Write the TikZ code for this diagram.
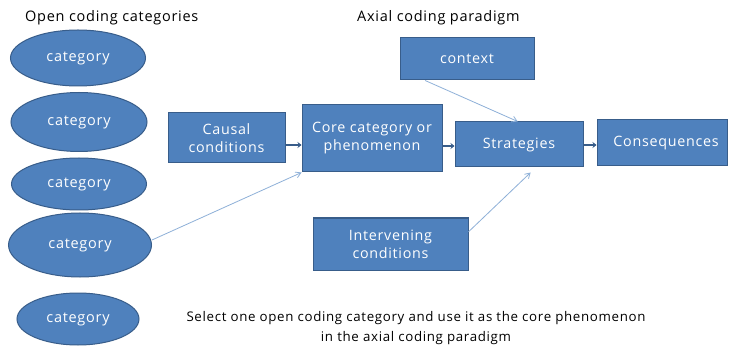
\documentclass[tikz,border=0pt]{standalone}
\usepackage{fontspec}
\setmainfont{Open Sans}[LetterSpace=5]
\usetikzlibrary{arrows.meta,calc,shapes.geometric}
\definecolor{boxfill}{HTML}{4F81BD}
\definecolor{boxline}{HTML}{385D8A}
\definecolor{thinarrow}{HTML}{8EB0D8}
\tikzset{
  cat/.style={ellipse,draw=boxline,fill=boxfill,line width=1pt,text=white,font=\fontsize{14.5}{16}\selectfont,inner sep=0pt},
  bx/.style={rectangle,draw=boxline,fill=boxfill,line width=1pt,text=white,font=\fontsize{14.3}{18}\selectfont,align=center,inner sep=0pt},
  thick link/.style={draw=boxline,line width=2.6pt,-{Stealth[length=4pt,width=6pt]}},
  thin link/.style={draw=thinarrow,line width=0.8pt,-{Straight Barb[length=5pt,width=6pt]}},
  lbl/.style={font=\fontsize{14.5}{20}\selectfont,text=black,inner sep=0pt},
  note/.style={font=\fontsize{13.3}{20}\selectfont,text=black,inner sep=0pt}
}
\begin{document}
\begin{tikzpicture}[x=1pt,y=-1pt]
\useasboundingbox (0,0) rectangle (735,347);
\fill[white] (0,0) rectangle (735,347);
% titles
\node[lbl,anchor=west] (t1) at (25,18) {Open coding categories};
\node[lbl,anchor=west] (t2) at (357,18) {Axial coding paradigm};
% ellipses
\node[cat,minimum width=135pt,minimum height=56pt] (c1) at (78,58) {category};
\node[cat,minimum width=136pt,minimum height=59pt] (c2) at (79,122) {category};
\node[cat,minimum width=135pt,minimum height=52pt] (c3) at (79,184) {category};
\node[cat,minimum width=143pt,minimum height=64pt] (c4) at (80,245) {category};
\node[cat,minimum width=122pt,minimum height=52pt] (c5) at (78,319) {category};
% boxes
\node[bx,minimum width=117pt,minimum height=50pt] (causal) at (226.5,138) {Causal\\conditions};
\node[bx,minimum width=140pt,minimum height=67pt] (core) at (372,138.5) {Core category or\\phenomenon};
\node[bx,minimum width=128pt,minimum height=45pt] (strat) at (519,144.5) {Strategies};
\node[bx,minimum width=130pt,minimum height=46pt] (cons) at (662,143) {\hspace*{8pt}Consequences};
\node[bx,minimum width=134pt,minimum height=42pt] (ctx) at (467,59) {context};
\node[bx,minimum width=155pt,minimum height=52pt] (interv) at (390.5,244) {Intervening\\conditions};
% thick links
\draw[thick link] (causal.east |- 0,145) -- (core.west |- 0,145);
\draw[thick link] (core.east |- 0,146) -- (strat.west |- 0,146);
\draw[thick link] (strat.east |- 0,145) -- (cons.west |- 0,145);
% thin links
\draw[thin link] ($(ctx.south west)!0.19!(ctx.south east)$) -- ($(strat.north west)!0.49!(strat.north east)$);
\draw[thin link] ($(interv.north east)!0.27!(interv.south east)$) -- ($(strat.south west)!0.59!(strat.south east)+(0,5)$);
\draw[thin link] (c4.east |- 0,240) -- (core.south west);
% bottom text
\node[note,align=center,anchor=north] (notetext) at (416,311) {Select one open coding category and use it as the core phenomenon\\in the axial coding paradigm};
\end{tikzpicture}
\end{document}
